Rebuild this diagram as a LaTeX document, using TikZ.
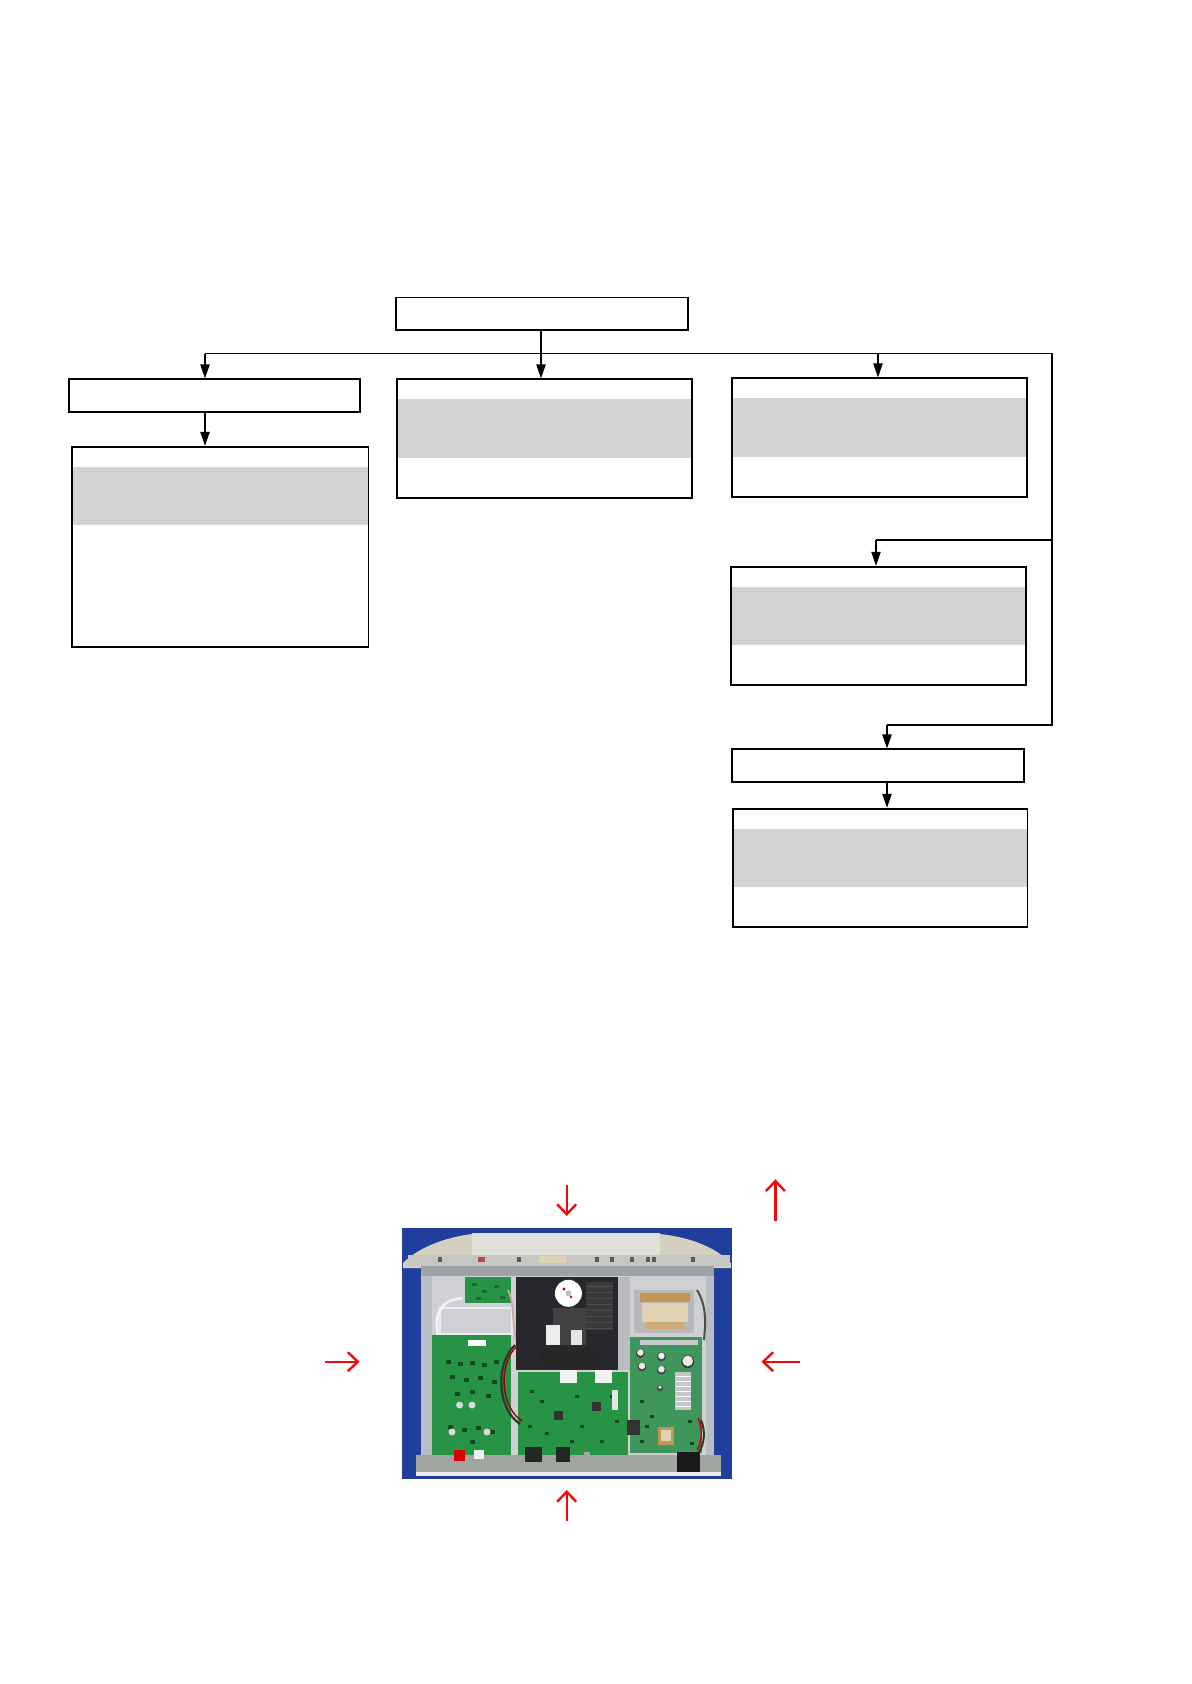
\documentclass[tikz,border=0pt]{standalone}
\usetikzlibrary{arrows.meta}
\definecolor{bandgray}{RGB}{211,211,211}
\definecolor{arrred}{RGB}{240,10,10}
\definecolor{photoblue}{RGB}{32,62,156}
\definecolor{chassis}{RGB}{186,189,194}
\definecolor{floorc}{RGB}{206,208,211}
\definecolor{panelc}{RGB}{212,208,192}
\definecolor{panelhi}{RGB}{224,224,218}
\definecolor{panellow}{RGB}{198,199,195}
\definecolor{pcb}{RGB}{38,148,68}
\definecolor{pcbdark}{RGB}{26,104,48}
\definecolor{pcbright}{RGB}{62,150,92}
\definecolor{mech}{RGB}{40,40,44}
\definecolor{rearc}{RGB}{160,166,158}
\definecolor{beige}{RGB}{222,212,180}
\definecolor{coil}{RGB}{196,150,86}
\begin{document}
\begin{tikzpicture}[x=0.5pt,y=-0.5pt,
  box/.style={draw=black,line width=0.85pt,rectangle,inner sep=0pt},
  band/.style={path picture={\fill[bandgray]
      ([yshift=-10pt]path picture bounding box.north west) rectangle
      ([yshift=-39.3pt]path picture bounding box.north east);}},
  conn/.style={draw=black,line width=0.8pt,line join=miter},
  arr/.style={conn,-{Triangle[length=7pt,width=4.6pt]}},
  redarr/.style={draw=arrred,line width=1.2pt,-{Straight Barb[length=5pt,width=9.5pt]}},
]
\useasboundingbox (0,0) rectangle (1191,1684);
\fill[white] (0,0) rectangle (1191,1684);

% ---------- boxes ----------
\node[box, minimum width=146pt, minimum height=16.25pt] (top) at (542,313.75) {};
\node[box, minimum width=145.5pt, minimum height=16.5pt] (L1) at (214.5,395.8) {};
\node[box, band, minimum width=148.25pt, minimum height=100.3pt] (L2) at (220.25,547) {};
\node[box, band, minimum width=147.5pt, minimum height=59.5pt] (M) at (544.5,438.8) {};
\node[box, band, minimum width=147.5pt, minimum height=59.5pt] (R1) at (879.5,437.8) {};
\node[box, band, minimum width=147.5pt, minimum height=59.15pt] (R2) at (878.5,625.85) {};
\node[box, minimum width=146pt, minimum height=16.35pt] (R3) at (877.75,765.65) {};
\node[box, band, minimum width=147.35pt, minimum height=59pt] (R4) at (880.15,867.7) {};

% ---------- connectors ----------
\coordinate (bL) at (205,353.7);
\coordinate (bM) at (541,353.7);
\coordinate (bR) at (878,353.7);
\coordinate (bE) at (1052,353.7);
\coordinate (k1) at (1052,540);
\coordinate (k2) at (1052,724.7);
\coordinate (a1) at (876,540);
\coordinate (a2) at (887,724.7);

\draw[conn] (bL) -- (bE) -- (k2) -- (a2);
\draw[conn] (k1) -- (a1);
\draw[arr] (top.south -| bM) -- (bM |- M.north);
\draw[arr] (bL) -- (bL |- L1.north);
\draw[arr] (L1.south -| bL) -- (bL |- L2.north);
\draw[arr] (bR) -- (bR |- R1.north);
\draw[arr] (a1) -- (a1 |- R2.north);
\draw[arr] (a2) -- (a2 |- R3.north);
\draw[arr] (R3.south -| a2) -- (a2 |- R4.north);

% ---------- photo (drawn) ----------
\begin{scope}
\clip (401.7,1228.3) rectangle (732.3,1479.3);
\fill[photoblue] (401.7,1228.3) rectangle (732.3,1479.3);
% chassis
\fill[chassis] (421,1262) rectangle (714,1470);
\fill[floorc] (432,1276) rectangle (706,1455);
\draw[white!85!gray, line width=0.8pt] (440,1308) rectangle (512,1334);
% front panel
\fill[panelc] (403,1263) .. controls (420,1246) and (448,1237) .. (472,1234) -- (660,1234)
   .. controls (688,1237) and (714,1246) .. (731,1263) -- (731,1268) -- (403,1268) -- cycle;
\fill[panelhi] (472,1233) rectangle (660,1255);
\fill[panellow] (408,1255) rectangle (730,1266);
\fill[chassis!85!black] (421,1266) rectangle (714,1276);
\foreach \px in {440,481,519,597,612,632,648,654,693}
  \fill[gray!70!black] (\px-2,1257) rectangle (\px+2,1262);
\fill[beige] (539,1256) rectangle (566,1263);
\fill[red!40!gray] (478,1257) rectangle (485,1262);
% upper-left small pcb
\fill[pcb] (465,1277) rectangle (510.5,1303);
\foreach \px/\py in {472/1283,482/1290,494/1285,500/1296,476/1297}
  \fill[pcbdark] (\px,\py) rectangle (\px+5,\py+3);
% wires
\draw[white!90!gray, line width=1.4pt] (462,1298) .. controls (440,1300) and (434,1315) .. (438,1336);
\draw[pink!60!gray, line width=0.9pt] (508,1290) .. controls (514,1300) and (512,1320) .. (516,1340);
% CD mechanism
\fill[mech] (515.8,1277) rectangle (617.5,1370);
\fill[mech!80!gray] (586,1282) rectangle (613,1330);
\foreach \gy in {1286,1292,...,1328} \draw[gray!60!black, line width=0.3pt] (586,\gy) -- (613,\gy);
\fill[white] (568.4,1293.3) circle (13.5);
\fill[gray!50] (568.4,1293.3) circle (3);
\fill[red!70!black] (564,1289) circle (1.6);
\fill[red!70!black] (571,1297) circle (1.4);
\fill[mech!70!gray] (553,1308) rectangle (586,1345);
\fill[white!85!gray] (546,1325) rectangle (560,1345);
\fill[white!80!gray] (571,1330) rectangle (582,1345);
\fill[black!85] (540,1352) rectangle (600,1366);
\fill[floorc!90!black] (617.5,1277) rectangle (630,1370);
% left pcb
\fill[pcb] (431.6,1335) rectangle (510.5,1455);
\fill[white] (468,1340) rectangle (486,1346);
\foreach \px/\py in {446/1360,458/1362,470/1361,482/1363,494/1360,450/1375,464/1378,478/1376,492/1380,455/1392,470/1390,486/1394,448/1425,462/1428,476/1426,490/1430,470/1440}
  \fill[pcbdark!70!black] (\px,\py) rectangle (\px+5,\py+4);
\fill[gray!30] (459.6,1405) circle (3.5);
\fill[gray!30] (472,1405) circle (3.5);
\fill[gray!30] (452,1432) circle (3.5);
\fill[gray!30] (487,1432) circle (3.5);
% center pcb
\fill[pcb] (517.5,1371.7) rectangle (628,1455);
\fill[white!90!gray] (559.6,1370) rectangle (577,1383);
\fill[white!90!gray] (594.7,1370) rectangle (612,1383);
\fill[black!80] (553.5,1410.5) rectangle (562.5,1419.5);
\fill[black!80] (592,1402) rectangle (601,1411);
\foreach \px/\py in {530/1390,540/1400,528/1425,545/1432,575/1395,580/1425,610/1395,615/1420,570/1440,600/1440}
  \fill[pcbdark!70!black] (\px,\py) rectangle (\px+4,\py+3);
\fill[white!80!gray] (612,1390) rectangle (618,1410);
% right pcb
\fill[pcbright] (629.8,1336.7) rectangle (701.8,1453.3);
\fill[chassis!80!white] (640,1340) rectangle (698,1345);
% transformer
\fill[gray!55] (634,1290) rectangle (694,1333);
\fill[coil] (640,1293) rectangle (690,1302);
\fill[beige] (642,1303) rectangle (688,1322);
\fill[coil!80!white] (646,1322) rectangle (684,1329);
% capacitors
\foreach \cx/\cy/\r in {640.4/1353.3/4.5,661.4/1356.7/4.5,642/1366.7/4.5,661.4/1370/4.5,687.7/1361.7/6.5,660/1388/3}
  {\fill[black!75] (\cx,\cy) circle (\r); \fill[white!85!gray] (\cx,\cy-0.8) circle (\r-1.2);}
% heatsink
\fill[gray!45] (675.4,1371.7) rectangle (691.2,1410);
\foreach \hy in {1376,1381,...,1406} \draw[white, line width=0.5pt] (676,\hy) -- (690.5,\hy);
% small transformer
\fill[coil] (658,1426.7) rectangle (673.7,1445);
\fill[beige] (661,1430) rectangle (670.7,1441);
\foreach \px/\py in {640/1400,650/1415,688/1420,640/1440,690/1442,645/1425}
  \fill[pcbdark!70!black] (\px,\py) rectangle (\px+4,\py+3);
% wires
\draw[black!80, line width=1.1pt] (515,1345) .. controls (496,1362) and (496,1408) .. (520,1424);
\draw[red!60!black, line width=0.7pt] (517,1346) .. controls (499,1362) and (499,1406) .. (522,1421);
\draw[black!80, line width=1pt] (701,1420) .. controls (706,1432) and (704,1444) .. (699,1452);
\draw[red!80!black, line width=0.7pt] (698,1418) .. controls (703,1430) and (702,1442) .. (697,1450);
\draw[black!70, line width=1pt] (697,1290) .. controls (706,1305) and (706,1320) .. (704,1340);
\fill[black!80] (627,1420) rectangle (640,1435);
% rear panel
\fill[rearc] (415.8,1455) rectangle (721,1475);
\fill[white!85!gray] (415.8,1472) rectangle (721,1476);
\fill[black!85] (524.6,1447) rectangle (542,1462);
\fill[black!85] (556,1447) rectangle (570,1462);
\fill[red!85!black] (454.4,1450) rectangle (465,1461);
\fill[white!90!gray] (473.7,1450) rectangle (484,1459);
\fill[black!90] (677,1452) rectangle (700,1472);
\fill[gray!70] (584,1452) rectangle (590,1458);
\end{scope}

% ---------- red arrows ----------
\coordinate (t1) at (566.7,1185); \coordinate (t2) at (566.7,1216);
\coordinate (u1) at (775.4,1221); \coordinate (u2) at (775.4,1179.3);
\coordinate (l1) at (324.6,1361.7); \coordinate (l2) at (359.6,1361.7);
\coordinate (r1) at (800,1361.7); \coordinate (r2) at (761.4,1361.7);
\coordinate (d1) at (566.7,1521); \coordinate (d2) at (566.7,1490);
\draw[redarr] (t1) -- (t2);
\draw[redarr] (u1) -- (u2);
\draw[redarr] (l1) -- (l2);
\draw[redarr] (r1) -- (r2);
\draw[redarr] (d1) -- (d2);
\end{tikzpicture}
\end{document}
